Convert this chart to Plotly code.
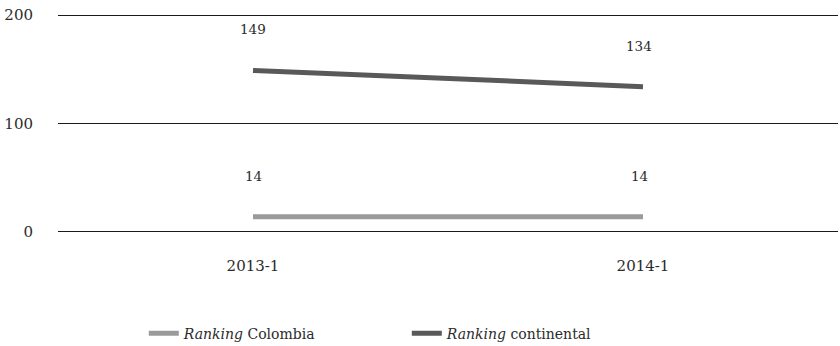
import plotly.graph_objects as go

periods = ["2013-1", "2014-1"]
ranking_colombia = [14, 14]
ranking_continental = [149, 134]
y_ticks = [0, 100, 200]

FONT = "DejaVu Serif"
TEXT = "#2b2b2b"

fig = go.Figure()
fig.add_trace(go.Scatter(
    x=periods, y=ranking_colombia, mode="lines",
    name="<i>Ranking</i> Colombia",
    line=dict(color="#9a9a9a", width=5),
))
fig.add_trace(go.Scatter(
    x=periods, y=ranking_continental, mode="lines",
    name="<i>Ranking</i> continental",
    line=dict(color="#595959", width=5),
))

# value labels floating above each point
for series in (ranking_colombia, ranking_continental):
    for i, (p, v) in enumerate(zip(periods, series)):
        fig.add_annotation(
            x=p, y=v, text=str(v), showarrow=False,
            yshift=41, xshift=(0 if i == 0 else -4),
            font=dict(family=FONT, size=13.5, color=TEXT),
        )

fig.update_layout(
    width=840, height=346,
    margin=dict(l=58, r=2, t=14, b=113, autoexpand=False),
    paper_bgcolor="white", plot_bgcolor="white",
    font=dict(family=FONT, color=TEXT),
    showlegend=True,
    legend=dict(
        orientation="h", x=0.11, xanchor="left", y=-0.46, yanchor="middle",
        font=dict(family=FONT, size=14, color=TEXT),
        entrywidth=218, entrywidthmode="pixels",
    ),
    xaxis=dict(
        type="category", range=[-0.5, 1.5],
        showgrid=False, zeroline=False, showline=False,
        ticks="", ticklabelstandoff=22,
        tickfont=dict(family=FONT, size=15, color=TEXT),
    ),
    yaxis=dict(
        range=[-1, 201], tickvals=y_ticks,
        showgrid=True, gridcolor="#1a1a1a", gridwidth=1.2,
        zeroline=False, showline=False, ticks="",
        ticklabelstandoff=24,
        tickfont=dict(family=FONT, size=15, color=TEXT),
    ),
)

fig.write_html("out.html")
